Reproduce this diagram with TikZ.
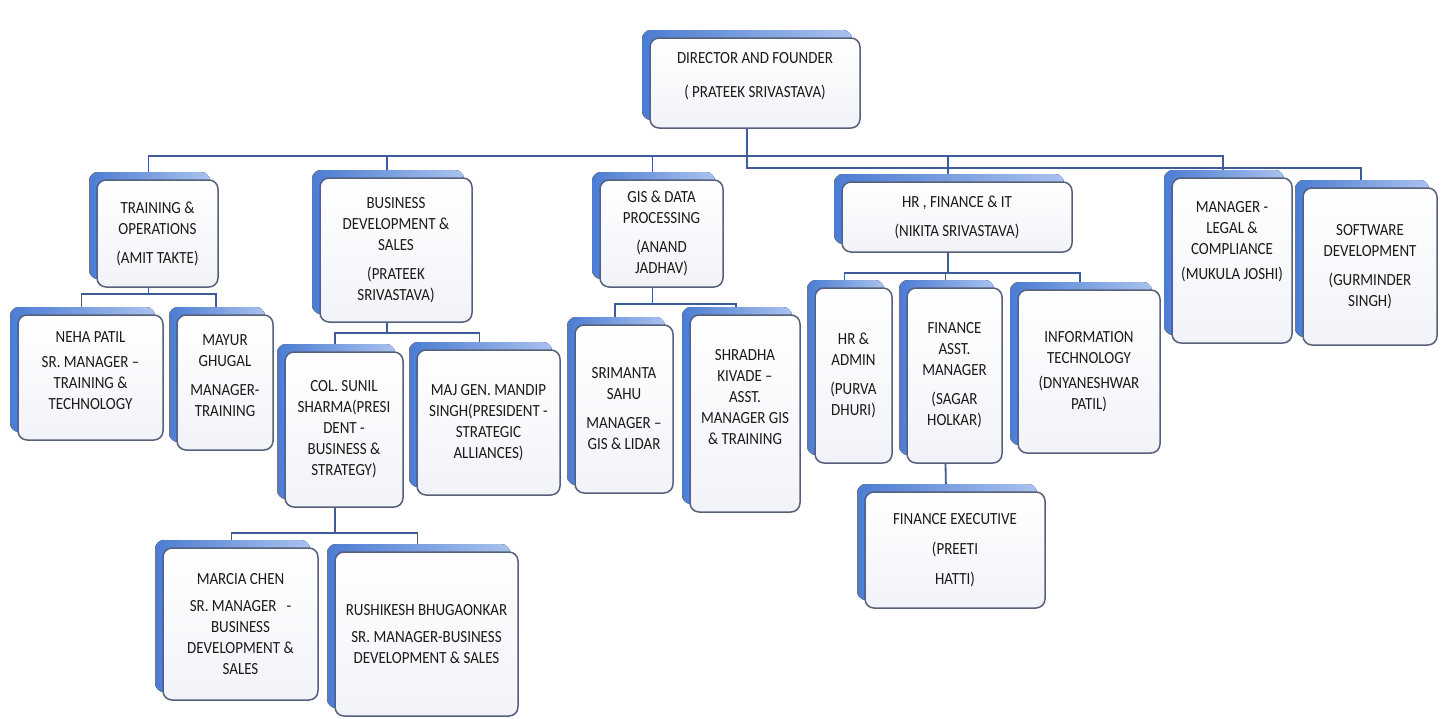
\documentclass[tikz,border=0pt]{standalone}
\usepackage{fontspec}
\setmainfont{Carlito}[FakeStretch=0.88]
\usetikzlibrary{shadows,backgrounds}

\definecolor{orgline}{HTML}{3E5C9A}
\definecolor{orgedge}{HTML}{56607A}
\definecolor{orgshadeA}{HTML}{4C7CD2}
\definecolor{orgshadeB}{HTML}{A9C2EE}
\definecolor{orgtext}{HTML}{1A1A1A}
\definecolor{orgfill}{HTML}{F1F3F8}

\tikzset{
  orgbox/.style={draw=orgedge, line width=1.5pt, rounded corners=9pt,
    top color=white, bottom color=orgfill, align=center, inner sep=3pt,
    text=orgtext, font=\fontsize{17}{21}\selectfont,
    copy shadow={shadow xshift=-8pt, shadow yshift=8pt, draw=none,
      left color=orgshadeA, right color=orgshadeB}},
  link/.style={draw=orgline, line width=1.8pt}
}

\begin{document}
\begin{tikzpicture}[x=1pt,y=-1pt] %Organigrama: director, areas y equipos
  \useasboundingbox (0,0) rectangle (1442,718);

  \node[orgbox, minimum width=210pt, minimum height=90pt] (director) at (755,83)
    {DIRECTOR AND FOUNDER\\[13pt]( PRATEEK SRIVASTAVA)\\[-5pt]\mbox{}};

  \node[orgbox, minimum width=121pt, minimum height=107pt] (training) at (157.5,233.5)
    {TRAINING \&\\OPERATIONS\\[8pt](AMIT TAKTE)};
  \node[orgbox, minimum width=152pt, minimum height=144pt] (busdev) at (396,250)
    {BUSINESS\\DEVELOPMENT \&\\SALES\\[8pt](PRATEEK\\SRIVASTAVA)};
  \node[orgbox, minimum width=123pt, minimum height=107pt] (gis) at (661.5,233.5)
    {GIS \& DATA\\PROCESSING\\[8pt](ANAND\\JADHAV)};
  \node[orgbox, minimum width=230pt, minimum height=70pt] (hrfin) at (957,217)
    {HR , FINANCE \& IT\\[8pt](NIKITA SRIVASTAVA)};
  \node[orgbox, minimum width=120pt, minimum height=165pt] (legal) at (1232,260.5)
    {MANAGER -\\LEGAL \&\\COMPLIANCE\\[4pt](MUKULA JOSHI)\\[19pt]\mbox{}};
  \node[orgbox, minimum width=134pt, minimum height=157pt] (software) at (1370,266.5)
    {SOFTWARE\\DEVELOPMENT\\[8pt](GURMINDER\\SINGH)};

  \node[orgbox, minimum width=145pt, minimum height=125pt] (neha) at (90.5,377.5)
    {NEHA PATIL\\[4pt]SR. MANAGER --\\TRAINING \&\\TECHNOLOGY\\[-7pt]\mbox{}};
  \node[orgbox, minimum width=96pt, minimum height=135pt] (mayur) at (225,382.5)
    {MAYUR\\GHUGAL\\[8pt]MANAGER-\\TRAINING\\[-7pt]\mbox{}};

  \node[orgbox, minimum width=118pt, minimum height=155pt] (colsunil) at (344,429.5)
    {COL. SUNIL\\SHARMA(PRESI\\DENT -\\BUSINESS \&\\STRATEGY)};
  \node[orgbox, minimum width=143pt, minimum height=145pt] (majgen) at (488.5,422.5)
    {MAJ GEN. MANDIP\\SINGH(PRESIDENT -\\STRATEGIC\\ALLIANCES)};

  \node[orgbox, minimum width=155pt, minimum height=152pt] (marcia) at (240.5,624)
    {MARCIA CHEN\\[6pt]SR. MANAGER\ \ \ -\\BUSINESS\\DEVELOPMENT \&\\SALES};
  \node[orgbox, minimum width=183pt, minimum height=164pt] (rushikesh) at (426.5,634)
    {RUSHIKESH BHUGAONKAR\\[6pt]SR. MANAGER-BUSINESS\\DEVELOPMENT \& SALES};

  \node[orgbox, minimum width=98pt, minimum height=168pt] (srimanta) at (624,409)
    {SRIMANTA\\SAHU\\[8pt]MANAGER --\\GIS \& LIDAR};
  \node[orgbox, minimum width=110pt, minimum height=197pt] (shradha) at (745,413.5)
    {SHRADHA\\KIVADE --\\ASST.\\MANAGER GIS\\\& TRAINING\\[13pt]\mbox{}};

  \node[orgbox, minimum width=77pt, minimum height=175pt] (hradmin) at (853.5,375.5)
    {HR \&\\ADMIN\\[8pt](PURVA\\DHURI)};
  \node[orgbox, minimum width=95pt, minimum height=175pt] (finasst) at (954.5,375.5)
    {FINANCE\\ASST.\\MANAGER\\[8pt](SAGAR\\HOLKAR)};
  \node[orgbox, minimum width=142pt, minimum height=163pt] (it) at (1089,371.5)
    {INFORMATION\\TECHNOLOGY\\[4pt](DNYANESHWAR\\PATIL)};
  \node[orgbox, minimum width=180pt, minimum height=116pt] (finexec) at (955,550)
    {FINANCE EXECUTIVE\\[9pt](PREETI\\[9pt]HATTI)};

  \begin{pgfonlayer}{background}
    \foreach \kid in {training,busdev,gis,hrfin,legal}
      \draw[link] ([xshift=-8pt]director.south) -- ++(0,27) -| ([xshift=-9pt]\kid.north);
    \draw[link] ([xshift=-8pt]director.south) -- ++(0,39) -| ([xshift=-9pt]software.north);

    \foreach \kid in {neha,mayur}
      \draw[link] ([xshift=-9pt]training.south) -- ++(0,6) -| ([xshift=-9pt]\kid.north);
    \foreach \kid in {colsunil,majgen}
      \draw[link] ([xshift=-9pt]busdev.south) -- ++(0,10) -| ([xshift=-9pt]\kid.north);
    \foreach \kid in {marcia,rushikesh}
      \draw[link] ([xshift=-9pt]colsunil.south) -- ++(0,25) -| ([xshift=-9pt]\kid.north);
    \foreach \kid in {srimanta,shradha}
      \draw[link] ([xshift=-9pt]gis.south) -- ++(0,16) -| ([xshift=-9pt]\kid.north);
    \foreach \kid in {hradmin,finasst,it}
      \draw[link] ([xshift=-9pt]hrfin.south) -- ++(0,20) -| ([xshift=-9pt]\kid.north);
    \draw[link] ([xshift=-9pt]finasst.south) -- ([xshift=-9pt]finexec.north);
  \end{pgfonlayer}
\end{tikzpicture}
\end{document}
